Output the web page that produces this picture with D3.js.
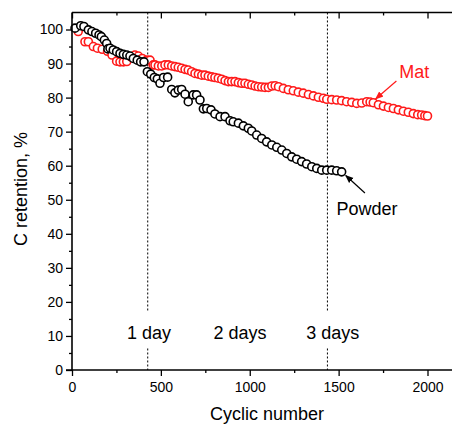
<!DOCTYPE html>
<html>
<head>
<meta charset="utf-8">
<script src="https://cdn.jsdelivr.net/npm/d3@7"></script>
<style>
  body { margin: 0; background: #fff; }
  text { font-family: Arial, "Liberation Sans", sans-serif; }
</style>
</head>
<body>
<svg id="chart" width="452" height="425"></svg>
<script>
// values
var matCycles = [35, 73, 92, 120, 143, 170, 200, 225, 251, 270, 289, 308, 335, 354, 373, 395, 420, 439,
  457, 467, 486, 505, 523, 542, 561, 579, 598, 617, 636, 654, 673, 692, 711, 730, 748, 767, 786, 804,
  823, 842, 861, 880, 898, 917, 936, 955, 973, 992, 1011, 1030, 1048, 1067, 1086, 1105, 1124, 1143,
  1162, 1189, 1217, 1245, 1273, 1301, 1330, 1358, 1386, 1414, 1433, 1461, 1489, 1517, 1545, 1574,
  1602, 1630, 1658, 1677, 1695, 1724, 1752, 1780, 1808, 1836, 1864, 1892, 1920, 1945, 1967, 1985, 2000];
var matRetention = [99.4, 96.4, 96.4, 95.0, 94.5, 94.2, 93.6, 92.5, 90.7, 90.5, 90.5, 90.6, 91.8, 92.5, 92.2, 91.5, 91.0, 91.0,
  89.6, 89.6, 89.3, 89.3, 89.6, 89.6, 89.3, 89.1, 88.9, 88.6, 88.3, 88.1, 87.6, 87.1, 86.9, 86.6, 86.6, 86.3, 86.1, 85.9,
  85.7, 85.4, 85.0, 84.7, 84.7, 84.7, 84.4, 84.2, 84.2, 83.9, 83.7, 83.4, 83.2, 83.1, 83.0, 83.0, 83.4, 83.5,
  83.2, 82.7, 82.3, 82.0, 81.6, 81.3, 80.9, 80.5, 80.1, 79.8, 79.5, 79.4, 79.3, 79.1, 78.8, 78.6,
  78.3, 78.4, 78.8, 78.7, 78.5, 77.9, 77.5, 77.1, 76.8, 76.4, 76.0, 75.7, 75.3, 75.0, 74.9, 74.7, 74.6];

var powderCycles = [17, 49, 67, 92, 112, 133, 152, 165, 182, 195, 202, 214, 232, 251, 270, 289, 308, 326,
  345, 367, 386, 405, 424, 443, 463, 480, 495, 515, 538, 561, 579, 598, 617, 636, 654, 682, 701, 720,
  739, 758, 782, 804, 833, 861, 889, 907, 936, 964, 992, 1011, 1039, 1067, 1095, 1124, 1152, 1180,
  1208, 1236, 1264, 1292, 1320, 1349, 1377, 1405, 1433, 1461, 1489, 1517];
var powderRetention = [100.4, 101.1, 100.9, 99.9, 99.4, 98.9, 98.4, 97.9, 96.9, 95.9, 94.3, 94.5, 94.0, 93.5, 93.0, 92.7, 92.5, 92.2,
  91.5, 91.0, 90.5, 90.5, 87.6, 86.9, 85.9, 85.5, 84.2, 85.9, 86.0, 82.4, 81.4, 82.2, 82.4, 81.0, 78.8, 80.8, 80.8, 79.3,
  76.7, 76.8, 76.4, 75.2, 74.4, 74.4, 73.2, 72.9, 72.5, 71.7, 71.0, 70.2, 69.0, 68.0, 67.0, 66.1, 65.4, 64.6,
  63.6, 62.6, 61.9, 61.2, 60.5, 59.7, 59.2, 58.7, 58.7, 58.7, 58.5, 58.2];

var dayCycles = [426, 1437];
var dayLabels = ["1 day", "2 days", "3 days"];
var dayLabelCycles = [433, 945, 1467];

var xTicks = [0, 500, 1000, 1500, 2000];
var yTicks = [0, 10, 20, 30, 40, 50, 60, 70, 80, 90, 100];

var red = "#ff1a1a";
var svg = d3.select("#chart");

var x = d3.scaleLinear().domain([0, 2000]).range([72, 427.5]);
var y = d3.scaleLinear().domain([0, 100]).range([370, 29.5]);
var xEnd = x(2160), yTop = y(105);

var defs = svg.append("defs");
[["arrRed", red], ["arrBlack", "#000"]].forEach(function(m) {
  defs.append("marker")
    .attr("id", m[0])
    .attr("viewBox", "0 0 10 10")
    .attr("refX", 9).attr("refY", 5)
    .attr("markerWidth", 7).attr("markerHeight", 7)
    .attr("orient", "auto")
    .append("path").attr("d", "M0,1 L10,5 L0,9 z").attr("fill", m[1]);
});

// dashed day lines
svg.selectAll(".dayline")
  .data(dayCycles)
  .enter().append("line")
  .attr("x1", function(d) { return x(d); })
  .attr("x2", function(d) { return x(d); })
  .attr("y1", yTop).attr("y2", y(0))
  .attr("stroke", "#000").attr("stroke-width", 1)
  .attr("stroke-dasharray", "2,2");

// day labels with white box behind
var lab = svg.selectAll(".daylab")
  .data(dayLabels)
  .enter().append("g");
lab.append("rect")
  .attr("x", function(d, i) { return x(dayLabelCycles[i]) - 30; })
  .attr("y", 311).attr("width", 60).attr("height", 36)
  .attr("fill", "#fff");
lab.append("text")
  .attr("x", function(d, i) { return x(dayLabelCycles[i]); })
  .attr("y", 339)
  .attr("text-anchor", "middle")
  .attr("font-size", 18)
  .text(function(d) { return d; });

// series
var matData = matCycles.map(function(c, i) { return [c, matRetention[i]]; });
var powderData = powderCycles.map(function(c, i) { return [c, powderRetention[i]]; });

svg.append("g").selectAll("circle")
  .data(matData)
  .enter().append("circle")
  .attr("cx", function(d) { return x(d[0]); })
  .attr("cy", function(d) { return y(d[1]); })
  .attr("r", 4)
  .attr("fill", "#fff")
  .attr("stroke", red)
  .attr("stroke-width", 1.6);

svg.append("g").selectAll("circle")
  .data(powderData)
  .enter().append("circle")
  .attr("cx", function(d) { return x(d[0]); })
  .attr("cy", function(d) { return y(d[1]); })
  .attr("r", 4)
  .attr("fill", "#fff")
  .attr("stroke", "#000")
  .attr("stroke-width", 1.6);

// axes
svg.append("g")
  .attr("transform", "translate(" + x(0) + ",0)")
  .call(d3.axisLeft(y).tickValues(yTicks).tickSize(6).tickPadding(3).tickFormat(d3.format("d")));
svg.append("g")
  .attr("transform", "translate(" + x(0) + ",0)")
  .call(d3.axisLeft(y).tickValues(d3.range(5, 100, 10)).tickSize(3).tickFormat(""));

svg.append("g")
  .attr("transform", "translate(0," + y(0) + ")")
  .call(d3.axisBottom(x).tickValues(xTicks).tickSize(6).tickPadding(6).tickFormat(d3.format("d")));
svg.append("g")
  .attr("transform", "translate(0," + y(0) + ")")
  .call(d3.axisBottom(x).tickValues([250, 750, 1250, 1750]).tickSize(3).tickFormat(""));

// top frame with inward ticks
svg.append("g")
  .attr("transform", "translate(0," + yTop + ")")
  .call(d3.axisBottom(x).tickValues(xTicks).tickSize(6).tickFormat(""));
svg.append("g")
  .attr("transform", "translate(0," + yTop + ")")
  .call(d3.axisBottom(x).tickValues([250, 750, 1250, 1750]).tickSize(3).tickFormat(""));

svg.selectAll(".domain").remove();
svg.selectAll(".tick line").attr("stroke", "#000").attr("stroke-width", 1.3);
svg.selectAll(".tick text").attr("font-size", 14).attr("fill", "#000")
  .style("font-family", "Arial, 'Liberation Sans', sans-serif");

svg.append("line").attr("x1", x(0)).attr("x2", x(0)).attr("y1", yTop).attr("y2", y(0))
  .attr("stroke", "#000").attr("stroke-width", 1.6);
svg.append("line").attr("x1", x(0) - 6).attr("x2", xEnd).attr("y1", y(0)).attr("y2", y(0))
  .attr("stroke", "#000").attr("stroke-width", 1.6);
svg.append("line").attr("x1", x(0)).attr("x2", xEnd).attr("y1", yTop).attr("y2", yTop)
  .attr("stroke", "#000").attr("stroke-width", 1.6);

// axis titles
svg.append("text")
  .attr("x", 267).attr("y", 420)
  .attr("text-anchor", "middle").attr("font-size", 18)
  .text("Cyclic number");
svg.append("text")
  .attr("transform", "translate(27," + 189 + ") rotate(-90)")
  .attr("text-anchor", "middle").attr("font-size", 18)
  .text("C retention, %");

// series labels and arrows
svg.append("text")
  .attr("x", x(1925)).attr("y", 78)
  .attr("text-anchor", "middle").attr("font-size", 18).attr("fill", red)
  .text("Mat");
svg.append("line")
  .attr("x1", x(1825)).attr("y1", 81)
  .attr("x2", x(1708)).attr("y2", 99)
  .attr("stroke", red).attr("stroke-width", 1.2)
  .attr("marker-end", "url(#arrRed)");

svg.append("text")
  .attr("x", x(1660)).attr("y", 215)
  .attr("text-anchor", "middle").attr("font-size", 18).attr("fill", "#000")
  .text("Powder");
svg.append("line")
  .attr("x1", x(1648)).attr("y1", 193)
  .attr("x2", x(1540)).attr("y2", 175.5)
  .attr("stroke", "#000").attr("stroke-width", 1.2)
  .attr("marker-end", "url(#arrBlack)");
</script>
</body>
</html>
